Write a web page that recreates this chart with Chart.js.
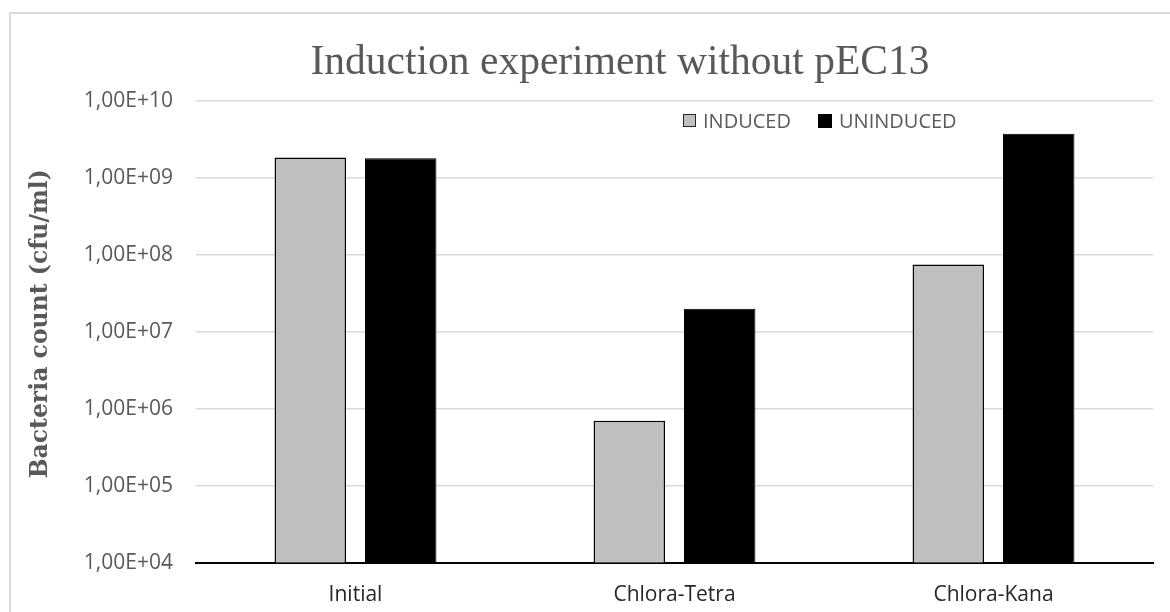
<!DOCTYPE html>
<html>
<head>
  <script src="https://cdn.jsdelivr.net/npm/chart.js"></script>
  <style>
    body { margin: 0; background: #fff; }
    #wrap { position: relative; width: 1170px; height: 612px; overflow: hidden; }
    #frame { position: absolute; left: 9px; top: 12px; width: 1300px; height: 700px;
             border-left: 2px solid #d9d9d9; border-top: 2px solid #d9d9d9; pointer-events: none; }
    #title { position: absolute; left: 0; top: 36px; width: 1240px; height: 48px; line-height: 48px;
             text-align: center; font: 41.5px "Liberation Serif", serif; color: #595959; white-space: nowrap; }
    .leg { position: absolute; top: 107px; font: 20px "Open Sans", sans-serif; color: #595959;
           display: flex; align-items: center; }
    .leg span.box { display: inline-block; width: 11px; height: 11px; margin-right: 7px; }
  </style>
</head>
<body>
  <div id="wrap">
    <div id="frame"></div>
    <canvas id="barChart" width="1240" height="633" style="position:absolute;left:0;top:0;"></canvas>
    <div id="title"></div>
    <div class="leg" id="leg1" style="left: 683px;"><span class="box" style="background:#bfbfbf;border:1.5px solid #262626;"></span><span id="lab1"></span></div>
    <div class="leg" id="leg2" style="left: 818px;"><span class="box" style="background:#000;border:1px solid #000;width:12px;height:12px;"></span><span id="lab2"></span></div>
  </div>

  <script>
    const chartTitle = 'Induction experiment without pEC13';
    const categories = ['Initial', 'Chlora-Tetra', 'Chlora-Kana'];
    const seriesNames = ['INDUCED', 'UNINDUCED'];
    const induced = [1.85e9, 7.0e5, 7.5e7];
    const uninduced = [1.8e9, 2.0e7, 3.75e9];
    const tickValues = [1e4, 1e5, 1e6, 1e7, 1e8, 1e9, 1e10];
    const tickLabels = ['1,00E+04', '1,00E+05', '1,00E+06', '1,00E+07', '1,00E+08', '1,00E+09', '1,00E+10'];

    document.getElementById('title').textContent = chartTitle;
    document.getElementById('lab1').textContent = seriesNames[0];
    document.getElementById('lab2').textContent = seriesNames[1];

    const ctx = document.getElementById('barChart').getContext('2d');
    const barChart = new Chart(ctx, {
      type: 'bar',
      data: {
        labels: categories,
        datasets: [
          {
            label: seriesNames[0],
            data: induced,
            backgroundColor: '#bfbfbf',
            borderColor: '#000000',
            borderWidth: 1.5,
            categoryPercentage: 0.567,
            barPercentage: 0.79,
          },
          {
            label: seriesNames[1],
            data: uninduced,
            backgroundColor: '#000000',
            borderColor: '#000000',
            borderWidth: 1,
            categoryPercentage: 0.567,
            barPercentage: 0.79,
          },
        ],
      },
      options: {
        responsive: false,
        animation: false,
        devicePixelRatio: 1,
        layout: {
          padding: { left: 0, right: 87, top: 101, bottom: 5 }
        },
        scales: {
          x: {
            grid: { display: false, drawTicks: false },
            border: { display: true, color: '#000000', width: 2 },
            ticks: {
              padding: 20,
              maxRotation: 0,
              color: '#262626',
              font: { family: 'Open Sans', size: 21 }
            }
          },
          y: {
            type: 'logarithmic',
            min: 1e4,
            max: 1e10,
            afterBuildTicks: function (scale) {
              scale.ticks = tickValues.map(v => ({ value: v }));
            },
            afterFit: function (scale) {
              scale.width = 196;
            },
            grid: { color: '#d9d9d9', lineWidth: 1.5, drawTicks: false },
            border: { display: false },
            ticks: {
              padding: 23,
              color: '#595959',
              font: { family: 'Open Sans', size: 21 },
              callback: function (value) {
                const i = tickValues.indexOf(value);
                return i >= 0 ? tickLabels[i] : '';
              }
            },
            title: {
              display: true,
              // leading spaces nudge the rotated title up a little
              text: '  Bacteria count (cfu/ml)',
              color: '#595959',
              font: { family: 'DejaVu Serif', size: 23.5, weight: 'bold' },
              padding: { top: 27, bottom: 0 }
            }
          },
        },
        plugins: {
          legend: { display: false },
          tooltip: { enabled: false },
        },
      },
    });
  </script>
</body>
</html>
